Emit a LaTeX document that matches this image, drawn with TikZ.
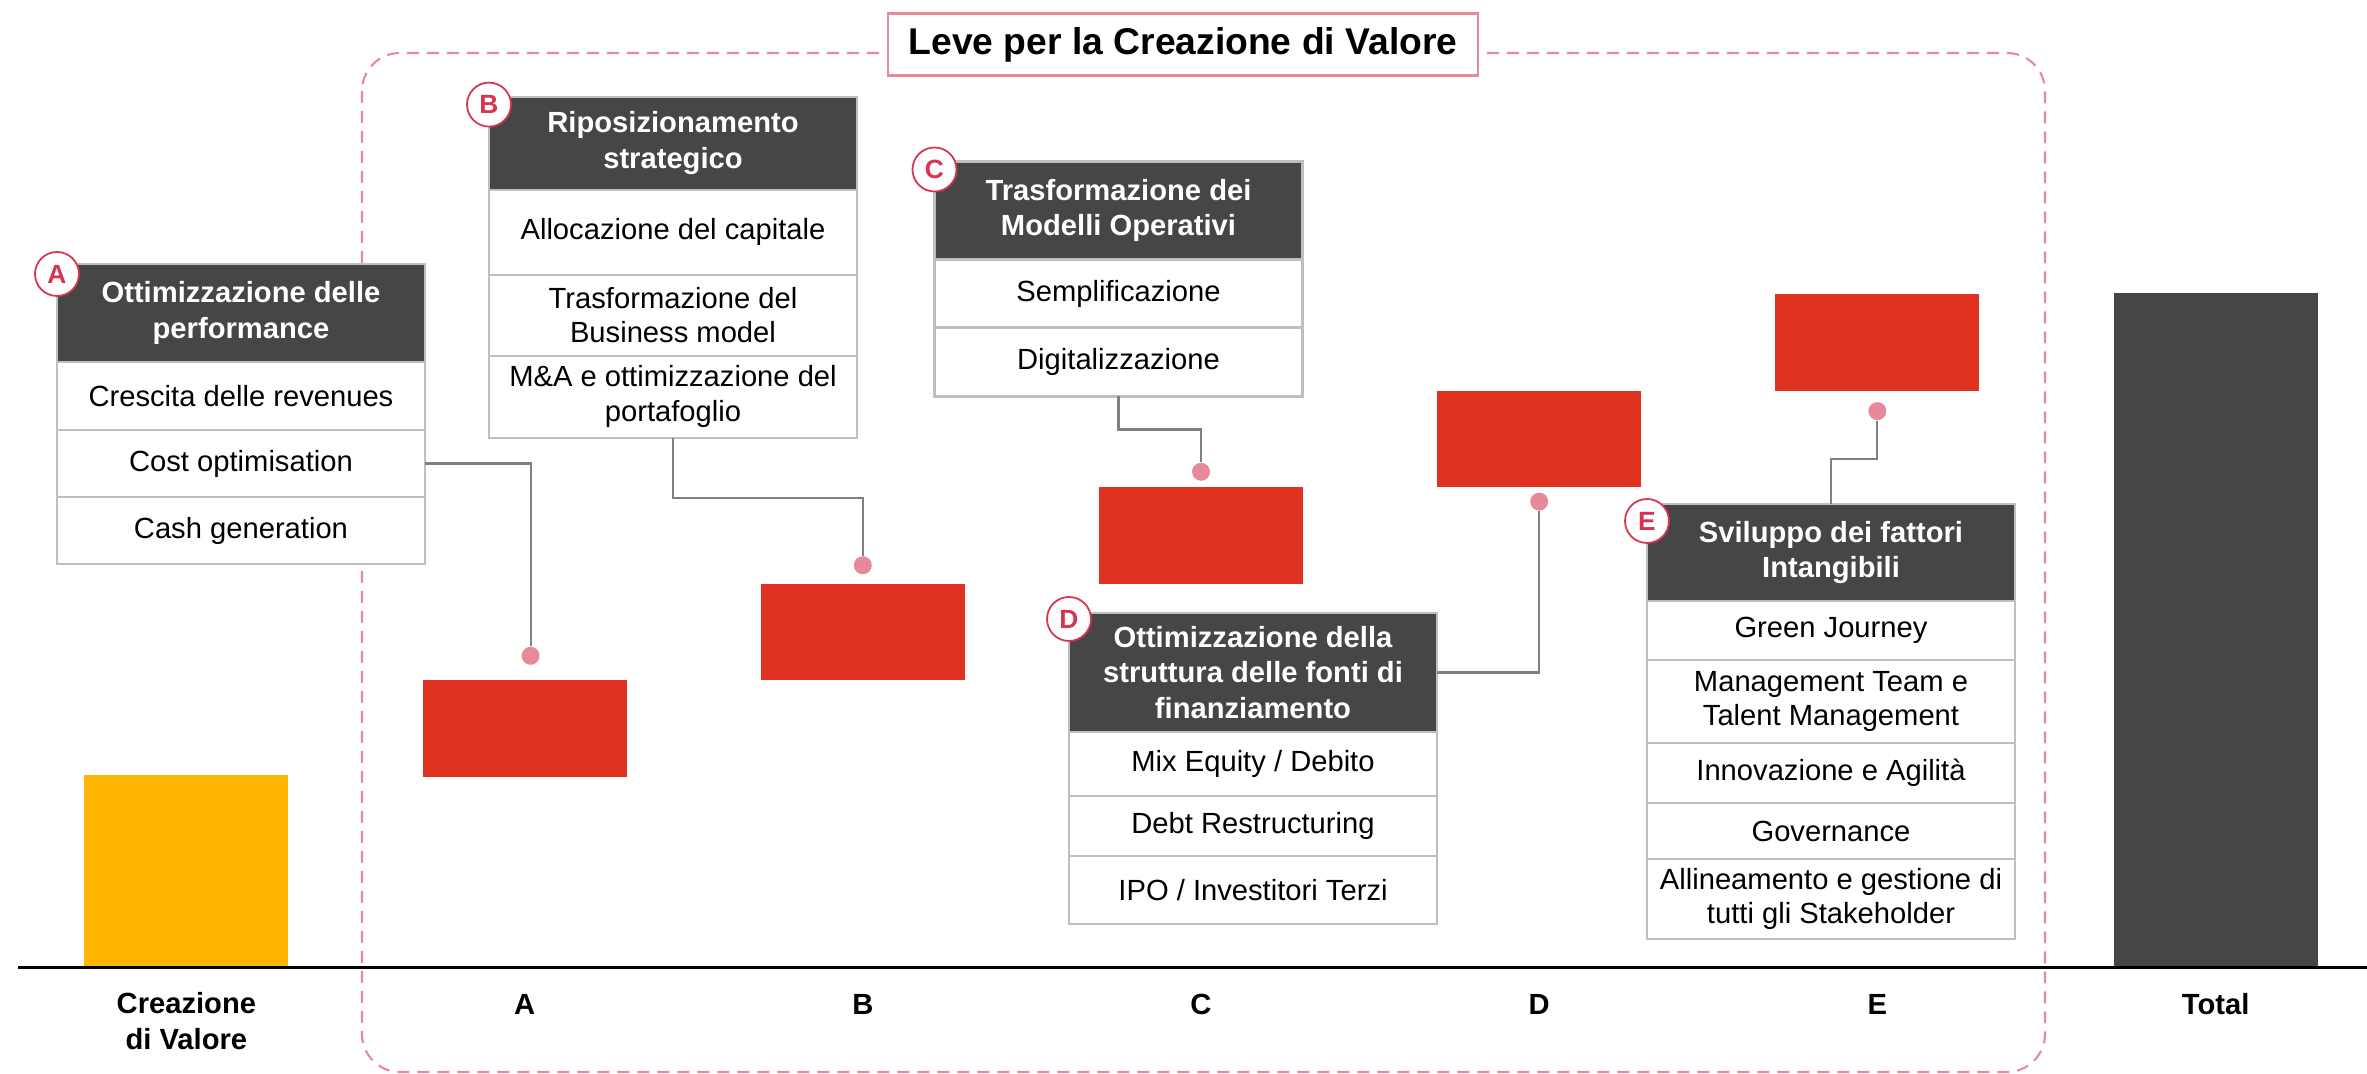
\documentclass[tikz,border=0pt]{standalone}
\usepackage{fontspec}
\setmainfont{Liberation Sans}
\usetikzlibrary{positioning}

\definecolor{barred}{RGB}{224,50,32}
\definecolor{baryellow}{RGB}{255,182,0}
\definecolor{darkgrey}{RGB}{70,70,70}
\definecolor{framepink}{RGB}{232,137,154}
\definecolor{badgered}{RGB}{217,52,79}
\definecolor{cellline}{RGB}{191,191,191}
\definecolor{linkgrey}{RGB}{128,128,128}

\tikzset{
  head/.style={draw=cellline, line width=0.6pt, fill=darkgrey, text=white, align=center, inner sep=0pt, outer sep=0pt, minimum width=36.8mm, font=\fontsize{8.3}{10.2}\selectfont\bfseries},
  cell/.style={draw=cellline, line width=0.6pt, fill=white, align=center, inner sep=0pt, outer sep=0pt, minimum width=36.8mm, font=\fontsize{8.3}{9.8}\selectfont},
  badge/.style={circle, draw=badgered, line width=0.5pt, fill=white, text=badgered, inner sep=0pt, minimum size=4.4mm, font=\fontsize{7.5}{8}\selectfont\bfseries},
  bar/.style={inner sep=0pt, minimum width=20.4mm},
  dot/.style={circle, fill=framepink, inner sep=0pt, minimum size=1.8mm},
  link/.style={draw=linkgrey, line width=0.6pt},
  axislabel/.style={align=center, font=\fontsize{8.3}{10.2}\selectfont\bfseries},
}

\begin{document}
\begin{tikzpicture}[x=0.1mm, y=-0.1mm]
\useasboundingbox (0,0) rectangle (2367,1074);
% frame and title
\draw[draw=framepink, line width=0.6pt, dash pattern=on 1.2mm off 0.8mm, rounded corners=3.8mm] (362,53) rectangle (2045,1072);
\node[draw=framepink, line width=0.6pt, fill=white, minimum width=59mm, minimum height=6.2mm, inner sep=0pt, font=\fontsize{10.6}{12}\selectfont\bfseries] (title) at (1183,44.5) {Leve per la Creazione di Valore};
% bars
\node[bar, fill=baryellow, minimum height=19.2mm, anchor=south] (bar0) at (186.4,967.7) {};
\node[bar, fill=barred, minimum height=9.65mm, anchor=north] (barA) at (524.6,679.5) {};
\node[bar, fill=barred, minimum height=9.65mm, anchor=north] (barB) at (862.8,583) {};
\node[bar, fill=barred, minimum height=9.65mm, anchor=north] (barC) at (1201,486.5) {};
\node[bar, fill=barred, minimum height=9.65mm, anchor=north] (barD) at (1539.2,390) {};
\node[bar, fill=barred, minimum height=9.65mm, anchor=north] (barE) at (1877.4,293.5) {};
\node[bar, fill=darkgrey, minimum height=67.4mm, anchor=south] (barT) at (2215.6,967.7) {};
\coordinate (axisL) at (18,967.7);
\coordinate (axisR) at (2367,967.7);
\draw[line width=0.85pt] (axisL) -- (axisR);
% dots
\node[dot, above=1.4mm of barA, xshift=0.6mm] (dotA) {};
\node[dot, above=0.8mm of barB] (dotB) {};
\node[dot, above=0.5mm of barC] (dotC) {};
\node[dot, below=0.4mm of barD] (dotD) {};
\node[dot, below=1mm of barE] (dotE) {};
% box A
\coordinate (A0) at (57,264);
\node[head, minimum height=9.8mm, anchor=north west] (Ahead) at (A0) {Ottimizzazione delle\\performance};
\node[cell, minimum height=6.8mm, below=0pt of Ahead] (Arev) {Crescita delle revenues};
\node[cell, minimum height=6.7mm, below=0pt of Arev] (Acost) {Cost optimisation};
\node[cell, minimum height=6.7mm, below=0pt of Acost] (Acash) {Cash generation};
\node[badge] (bA) at ([yshift=-1mm]Ahead.north west) {A};
% box B
\coordinate (B0) at (489,96.6);
\node[head, minimum height=9.3mm, anchor=north west] (Bhead) at (B0) {Riposizionamento\\strategico};
\node[cell, minimum height=8.5mm, below=0pt of Bhead] (Balloc) {Allocazione del capitale};
\node[cell, minimum height=8.1mm, below=0pt of Balloc] (Bmodel) {Trasformazione del\\Business model};
\node[cell, minimum height=8.2mm, below=0pt of Bmodel] (Bmna) {M\&A e ottimizzazione del\\portafoglio};
\node[badge] (bB) at ([yshift=-0.8mm]Bhead.north west) {B};
% box C
\coordinate (C0) at (934.5,161.5);
\node[head, minimum height=9.8mm, anchor=north west] (Chead) at (C0) {Trasformazione dei\\Modelli Operativi};
\node[cell, minimum height=6.8mm, below=0pt of Chead] (Csempl) {Semplificazione};
\node[cell, minimum height=6.9mm, below=0pt of Csempl] (Cdig) {Digitalizzazione};
\node[badge] (bC) at ([yshift=-0.8mm]Chead.north west) {C};
% box D
\coordinate (D0) at (1069,613);
\node[head, minimum height=11.9mm, anchor=north west] (Dhead) at (D0) {Ottimizzazione della\\struttura delle fonti di\\finanziamento};
\node[cell, minimum height=6.4mm, below=0pt of Dhead] (Dmix) {Mix Equity / Debito};
\node[cell, minimum height=6.0mm, below=0pt of Dmix] (Ddebt) {Debt Restructuring};
\node[cell, minimum height=6.8mm, below=0pt of Ddebt] (Dipo) {IPO / Investitori Terzi};
\node[badge] (bD) at ([yshift=-0.6mm]Dhead.north west) {D};
% box E
\coordinate (E0) at (1647,504);
\node[head, minimum height=9.7mm, anchor=north west] (Ehead) at (E0) {Sviluppo dei fattori\\Intangibili};
\node[cell, minimum height=5.9mm, below=0pt of Ehead] (Egreen) {Green Journey};
\node[cell, minimum height=8.3mm, below=0pt of Egreen] (Eteam) {Management Team e\\Talent Management};
\node[cell, minimum height=6.0mm, below=0pt of Eteam] (Einno) {Innovazione e Agilità};
\node[cell, minimum height=5.6mm, below=0pt of Einno] (Egov) {Governance};
\node[cell, minimum height=8.0mm, below=0pt of Egov] (Estake) {Allineamento e gestione di\\tutti gli Stakeholder};
\node[badge] (bE) at ([yshift=-1.7mm]Ehead.north west) {E};
% links
\draw[link] (Acost.east) -| (dotA);
\draw[link] (Bmna.south) -- ++(0,60) -| (dotB);
\draw[link] (Cdig.south) -- ++(0,33) -| (dotC);
\draw[link] (Dhead.east) -| (dotD);
\draw[link] (Ehead.north) -- ++(0,-45) -| (dotE);
% axis labels
\node[axislabel] (lab0) at (186.4,1021.3) {Creazione\\di Valore};
\node[axislabel] (labA) at (524.6,1004) {A};
\node[axislabel] (labB) at (862.8,1004) {B};
\node[axislabel] (labC) at (1201,1004) {C};
\node[axislabel] (labD) at (1539.2,1004) {D};
\node[axislabel] (labE) at (1877.4,1004) {E};
\node[axislabel] (labT) at (2215.6,1004) {Total};
\end{tikzpicture}
\end{document}
